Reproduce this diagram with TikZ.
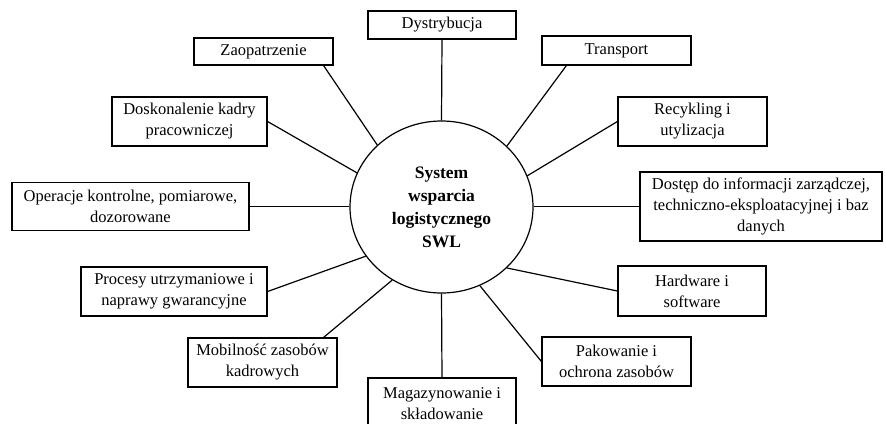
\documentclass[tikz,border=0pt]{standalone}
\usepackage{fontspec}
\setmainfont{Liberation Serif}
\usetikzlibrary{calc,shapes.geometric}
\begin{document}
\begin{tikzpicture}[x=1pt,y=-1pt,
  box/.style={draw,line width=1.2pt,inner sep=0pt,align=center,
    font=\fontsize{16.5}{21}\selectfont},
  hub/.style={draw,ellipse,line width=1.2pt,inner sep=0pt,
    minimum width=183pt,minimum height=172pt,align=center,
    font=\fontsize{17.5}{23}\selectfont\bfseries},
  link/.style={line width=1.2pt}]
\clip (0,0) rectangle (886,423);
\fill[white] (0,0) rectangle (886,423);
\node[hub] (c) at (441.5,207) {System\\wsparcia\\logistycznego\\SWL};
\node[box,minimum width=148pt,minimum height=28pt] (dys) at (442,25) {Dystrybucja};
\node[box,minimum width=139pt,minimum height=27pt] (zao) at (263.5,51.5) {Zaopatrzenie};
\node[box,minimum width=149pt,minimum height=29pt] (tra) at (616.5,50.5) {Transport};
\node[box,minimum width=155pt,minimum height=49pt] (dos) at (189.5,121.5) {Doskonalenie kadry\\pracowniczej};
\node[box,minimum width=149pt,minimum height=49pt] (rec) at (692.5,121.5) {Recykling i\\utylizacja};
\node[box,minimum width=237pt,minimum height=48pt] (ope) at (130.5,206.5) {Operacje kontrolne, pomiarowe,\\dozorowane};
\node[box,minimum width=242pt,minimum height=69pt] (dst) at (761,206.5) {Dostęp do informacji zarządczej,\\techniczno-eksploatacyjnej i baz\\danych};
\node[box,minimum width=186pt,minimum height=49pt] (pro) at (174,291.5) {Procesy utrzymaniowe i\\naprawy gwarancyjne};
\node[box,minimum width=148pt,minimum height=50pt] (har) at (692,291) {Hardware i\\software};
\node[box,minimum width=149pt,minimum height=49pt] (mob) at (262.5,362.5) {Mobilność zasobów\\kadrowych};
\node[box,minimum width=149pt,minimum height=49pt] (pak) at (616.5,361.5) {Pakowanie i\\ochrona zasobów};
\node[box,minimum width=148pt,minimum height=52pt] (mag) at (442,404) {Magazynowanie i\\składowanie};
\draw[link] (dys.south) -- (c.north);
\draw[link] ($(zao.south east)+(-10,0)$) -- (c.136.6);
\draw[link] ($(tra.south west)+(25,0)$) -- (c.43);
\draw[link] (dos.east) -- (c.158.7);
\draw[link] (rec.west) -- (c.20.9);
\draw[link] (ope.east) -- (ope.east -| c.west);
\draw[link] (dst.west) -- (dst.west -| c.east);
\draw[link] (pro.east) -- (c.213.7);
\draw[link] (har.west) -- (c.317.5);
\draw[link] ($(mob.north east)+(-14,0)$) -- (c.236.6);
\draw[link] (pak.west) -- (c.296.3);
\draw[link] (c.south) -- (mag.north);
\end{tikzpicture}
\end{document}
